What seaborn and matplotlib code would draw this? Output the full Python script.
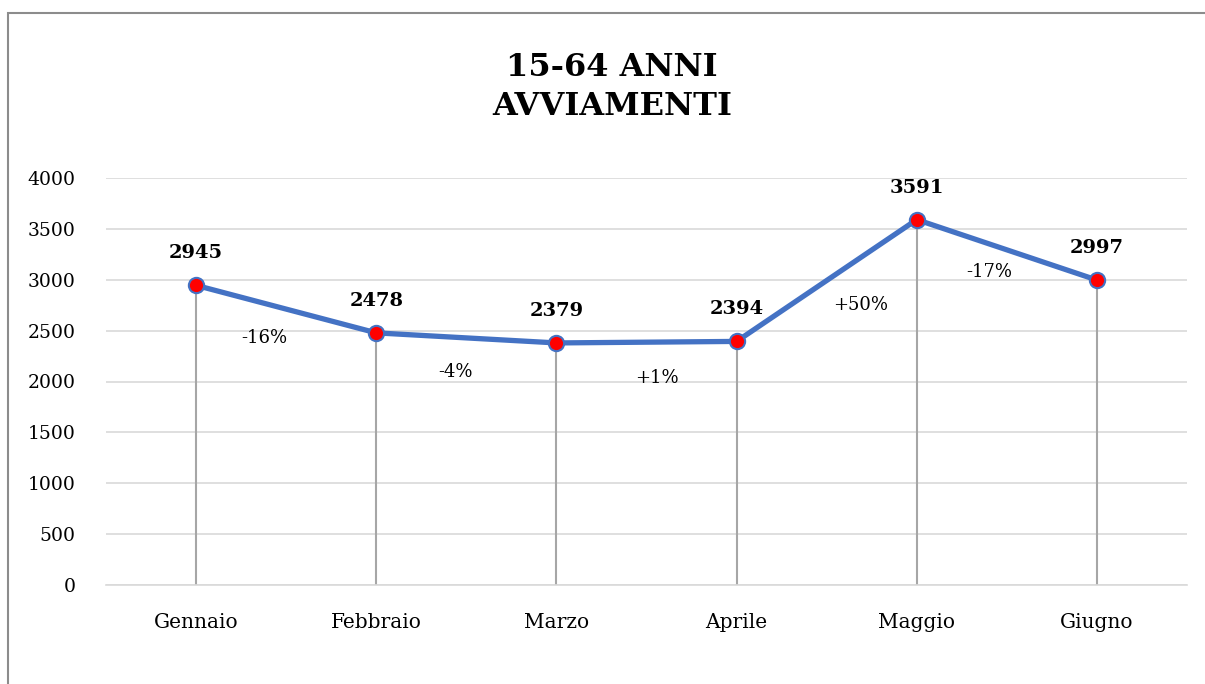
import numpy as np
import pandas as pd
import matplotlib
matplotlib.use("Agg")
import matplotlib.pyplot as plt
import seaborn as sns
from matplotlib.patches import Rectangle

# Avviamenti 15-64 anni, gennaio-giugno
months = ["Gennaio", "Febbraio", "Marzo", "Aprile", "Maggio", "Giugno"]
values = [2945, 2478, 2379, 2394, 3591, 2997]
pct_labels = ["-16%", "-4%", "+1%", "+50%", "-17%"]
# where each percent label sits (category position, value)
pct_x = [0.38, 1.44, 2.56, 3.69, 4.40]
pct_y = [2427, 2093, 2034, 2752, 3076]

df = pd.DataFrame({"mese": months, "avviamenti": values, "pos": range(len(months))})

sns.set_theme(style="white")
plt.rcParams["font.family"] = ["DejaVu Serif"]
plt.rcParams["text.color"] = "black"
plt.rcParams["xtick.color"] = "black"
plt.rcParams["ytick.color"] = "black"

fig = plt.figure(figsize=(12.05, 6.84), dpi=100)
ax = fig.add_axes([106 / 1205, 1 - 585 / 684, (1187 - 106) / 1205, (585 - 178) / 684])

# outer frame (cut off at right and bottom)
fig.patches.append(Rectangle((8 / 1205, -0.1), 1.2, (684 - 13) / 684 + 0.1,
                             transform=fig.transFigure, fill=False,
                             edgecolor="#8c8c8c", linewidth=1.5))

# drop lines
ax.vlines(df["pos"], 0, df["avviamenti"], color="#a6a6a6", linewidth=1.5, zorder=1)

sns.lineplot(data=df, x="pos", y="avviamenti", ax=ax, color="#4472C4",
             linewidth=3.8, marker="o", markersize=11, markerfacecolor="#FF0000",
             markeredgecolor="#4472C4", markeredgewidth=1.5, zorder=3)

for x, v in zip(df["pos"], df["avviamenti"]):
    ax.annotate(str(v), (x, v), xytext=(0, 32), textcoords="offset pixels",
                ha="center", va="center", fontsize=14, fontweight="bold")

for x, y, t in zip(pct_x, pct_y, pct_labels):
    ax.text(x, y, t, ha="center", va="center", fontsize=13)

ax.set_xlim(-0.5, 5.5)
ax.set_ylim(0, 4000)
ax.set_yticks(range(0, 4001, 500))
ax.set_xticks(df["pos"])
ax.set_xticklabels(months, fontsize=14.5)
ax.tick_params(axis="y", labelsize=13.5, length=0, pad=22)
ax.tick_params(axis="x", length=0, pad=20)
ax.yaxis.grid(True, color="#d9d9d9", linewidth=1.2)
ax.set_axisbelow(True)
for s in ["left", "right", "top"]:
    ax.spines[s].set_visible(False)
ax.spines["bottom"].set_color("#d9d9d9")
ax.spines["bottom"].set_linewidth(1.2)
ax.set_xlabel("")
ax.set_ylabel("")

fig.text(612 / 1205, 1 - 87 / 684, "15-64 ANNI\nAVVIAMENTI", ha="center", va="center",
         fontsize=23, fontweight="bold", linespacing=1.35)

fig.savefig("out.png", dpi=100)
